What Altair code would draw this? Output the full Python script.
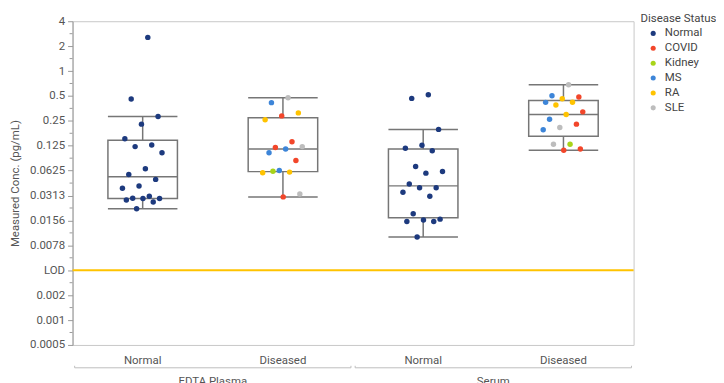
import json
import altair as alt
import numpy as np
import pandas as pd

# ---------------- data ----------------
sample_types = ["EDTA Plasma", "Serum"]
conditions = ["Normal", "Diseased"]
status_order = ["Normal", "COVID", "Kidney", "MS", "RA", "SLE"]
status_colors = ["#1d3a7e", "#f2462a", "#a8d419", "#3d85d8", "#ffc300", "#bdbdbd"]

plasma_normal = [2.55, 0.46, 0.282, 0.228, 0.152, 0.1275, 0.122, 0.103, 0.0657, 0.0562,
                 0.049, 0.0407, 0.0382, 0.0306, 0.029, 0.0288, 0.0288, 0.0276, 0.0261, 0.0216]
plasma_diseased = [0.476, 0.415, 0.312, 0.287, 0.257, 0.14, 0.1187, 0.122, 0.114, 0.103,
                   0.0828, 0.0628, 0.0588, 0.06, 0.0616, 0.0326, 0.0301]
plasma_diseased_status = ["SLE", "MS", "RA", "COVID", "RA", "COVID", "COVID", "SLE", "MS", "MS",
                          "COVID", "MS", "RA", "RA", "Kidney", "SLE", "COVID"]
serum_normal = [0.517, 0.467, 0.197, 0.1265, 0.1163, 0.109, 0.0702, 0.061, 0.0583, 0.043,
                0.0388, 0.0388, 0.0342, 0.0306, 0.0188, 0.0162, 0.0158, 0.0152, 0.0152, 0.00985]
serum_diseased = [0.682, 0.503, 0.485, 0.463, 0.418, 0.42, 0.389, 0.321, 0.298, 0.261,
                  0.228, 0.208, 0.195, 0.13, 0.13, 0.114, 0.11]
serum_diseased_status = ["SLE", "MS", "COVID", "RA", "MS", "RA", "RA", "COVID", "RA", "MS",
                         "COVID", "SLE", "MS", "Kidney", "SLE", "COVID", "COVID"]

lod_value = 0.00390625
y_tick_values = [4, 2, 1, 0.5, 0.25, 0.125, 0.0625, 0.03125, 0.015625, 0.0078125,
                 0.00390625, 0.001953125, 0.0009765625, 0.00048828125]
y_tick_labels = ["4", "2", "1", "0.5", "0.25", "0.125", "0.0625", "0.0313", "0.0156",
                 "0.0078", "LOD", "0.002", "0.001", "0.0005"]

# ---------------- tables ----------------
keys = [f"{s}|{c}" for s in sample_types for c in conditions]
groups = {
    keys[0]: (plasma_normal, ["Normal"] * len(plasma_normal)),
    keys[1]: (plasma_diseased, plasma_diseased_status),
    keys[2]: (serum_normal, ["Normal"] * len(serum_normal)),
    keys[3]: (serum_diseased, serum_diseased_status),
}
rows = []
summ = []
for k, (vals, stats) in groups.items():
    for v, s in zip(vals, stats):
        rows.append({"key": k, "value": v, "status": s})
    a = np.array(vals)
    q1, med, q3 = np.percentile(a, [25, 50, 75], method="weibull")
    iqr = q3 - q1
    inside = a[(a >= q1 - 1.5 * iqr) & (a <= q3 + 1.5 * iqr)]
    summ.append({"key": k, "q1": q1, "med": med, "q3": q3, "lo": inside.min(), "hi": inside.max()})
points = pd.DataFrame(rows)
summary = pd.DataFrame(summ)
lod_df = pd.DataFrame({"lod": [lod_value]})
minor_df = pd.DataFrame({"v": [float(np.sqrt(a * b)) for a, b in zip(y_tick_values[:-1], y_tick_values[1:])]})
brackets = pd.DataFrame({"group": sample_types, "start": [0, 2], "end": [2, 4]})

W, H = 565, 326
BOX = 70
GREY = "#767676"

xscale = alt.Scale(domain=keys, paddingInner=0, paddingOuter=0)
X = alt.X("key:N", sort=keys, scale=xscale,
          axis=alt.Axis(title=None, labelExpr="split(datum.label, '|')[1]", ticks=False,
                        domain=False, labelPadding=10, labelAngle=0))
yscale = alt.Scale(type="log", base=2, domain=[y_tick_values[-1], y_tick_values[0]], nice=False)
label_expr = json.dumps(y_tick_labels) + "[round(log(4/datum.value)/log(2))]"
yaxis = alt.Axis(values=y_tick_values, labelExpr=label_expr, tickSize=5, grid=False,
                 title="Measured Conc. (pg/mL)", domainColor="#9a9a9a", tickColor="#9a9a9a",
                 titlePadding=9, labelPadding=3)


def Y(field):
    return alt.Y(f"{field}:Q", scale=yscale, axis=yaxis)


whisk = alt.Chart(summary).mark_rule(color=GREY, strokeWidth=1.5).encode(x=X, y=Y("lo"), y2="hi")
box = alt.Chart(summary).mark_bar(size=BOX, fill="white", stroke=GREY, strokeWidth=1.5).encode(
    x=X, y=Y("q1"), y2="q3")
med = alt.Chart(summary).mark_tick(size=BOX, thickness=1.5, color=GREY, opacity=1).encode(x=X, y=Y("med"))
cap_lo = alt.Chart(summary).mark_tick(size=BOX, thickness=1.5, color=GREY, opacity=1).encode(x=X, y=Y("lo"))
cap_hi = alt.Chart(summary).mark_tick(size=BOX, thickness=1.5, color=GREY, opacity=1).encode(x=X, y=Y("hi"))
lod = alt.Chart(lod_df).mark_rule(color="#ffc300", strokeWidth=2).encode(y=Y("lod"))
minor = alt.Chart(minor_df).mark_rule(color="#9a9a9a").encode(y=Y("v"), x=alt.value(-3), x2=alt.value(0))

pts = alt.Chart(points).transform_window(
    rn="row_number()", groupby=["key"]
).transform_calculate(
    jit="((datum.rn * 0.618034) % 1 - 0.5) * 0.62"
).mark_circle(size=30, opacity=1).encode(
    x=X,
    xOffset=alt.XOffset("jit:Q", scale=alt.Scale(domain=[-1, 1])),
    y=Y("value"),
    color=alt.Color("status:N", scale=alt.Scale(domain=status_order, range=status_colors),
                    legend=alt.Legend(title="Disease Status", orient="none", legendX=572, legendY=-8,
                                      symbolType="circle", symbolSize=26, symbolOffset=7,
                                      labelOffset=6, rowPadding=2, titlePadding=3, padding=0,
                                      labelFontSize=11.5, titleFontSize=11.5, titleFontWeight="normal",
                                      titleColor="#444", labelColor="#444")),
)

inner = alt.layer(whisk, box, med, cap_lo, cap_hi, lod, minor, pts)

bx = alt.Scale(domain=[0, 4], nice=False, zero=False)
br = alt.Chart(brackets).transform_calculate(
    x0="datum.start + 0.015", x1="datum.end - 0.015", mid="(datum.start + datum.end) / 2")
br_line = br.mark_rule(color="#bdbdbd").encode(
    x=alt.X("x0:Q", scale=bx, axis=None), x2="x1", y=alt.value(H + 23))
br_ends = br.transform_fold(["x0", "x1"], as_=["which", "xe"]).mark_rule(color="#bdbdbd").encode(
    x=alt.X("xe:Q", scale=bx, axis=None), y=alt.value(H + 21), y2=alt.value(H + 23))
br_text = br.mark_text(baseline="top", align="center", font="Roboto", fontSize=11.5, color="#555").encode(
    x=alt.X("mid:Q", scale=bx, axis=None), y=alt.value(H + 31), text="group:N")

chart = alt.layer(inner, br_line, br_ends, br_text).resolve_scale(x="independent").properties(
    width=W, height=H,
    autosize=alt.AutoSizeParams(type="none"),
    padding={"left": 65, "top": 12, "right": 83, "bottom": 37},
).configure_view(stroke="#c8c8c8", strokeWidth=1).configure_axis(
    labelFont="Roboto", titleFont="Roboto", labelFontSize=11.5, titleFontSize=11.5,
    labelColor="#555", titleColor="#555", titleFontWeight="normal",
).configure_legend(labelFont="Roboto", titleFont="Roboto")

chart.save("out.html", embed_options={"renderer": "svg", "actions": False})
